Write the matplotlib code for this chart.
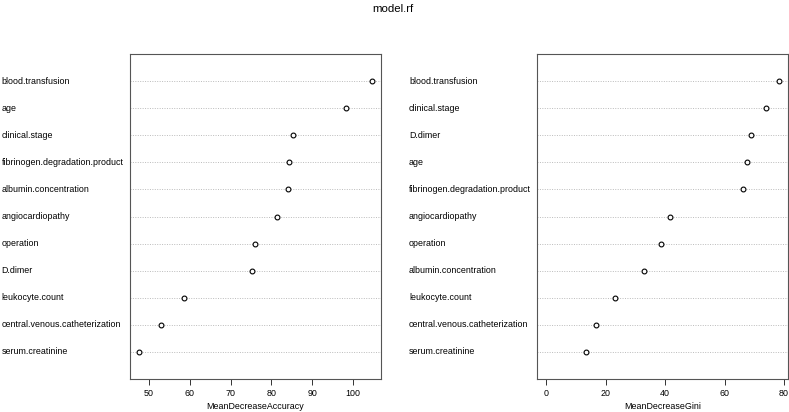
import matplotlib.pyplot as plt
import numpy as np

plt.rcParams['font.family'] = ['Liberation Sans', 'DejaVu Sans']

acc_labels = ["blood.transfusion", "age", "clinical.stage", "fibrinogen.degradation.product",
              "albumin.concentration", "angiocardiopathy", "operation", "D.dimer",
              "leukocyte.count", "central.venous.catheterization", "serum.creatinine"]
acc_values = [104.6, 98.2, 85.3, 84.4, 84.0, 81.3, 75.9, 75.2, 58.5, 53.0, 47.6]

gini_labels = ["blood.transfusion", "clinical.stage", "D.dimer", "age",
               "fibrinogen.degradation.product", "angiocardiopathy", "operation",
               "albumin.concentration", "leukocyte.count", "central.venous.catheterization",
               "serum.creatinine"]
gini_values = [78.2, 74.0, 68.9, 67.5, 66.3, 41.6, 38.7, 32.9, 23.0, 16.6, 13.2]

W, H = 789, 412
fig = plt.figure(figsize=(W / 100, H / 100), dpi=100)
fs = 6.4


def panel(x0, lab_x, labels, values, xlabel, ticks, xlim):
    ax = fig.add_axes([x0 / W, (H - 379) / H, 251 / W, 325 / H])
    n = len(values)
    ys = np.arange(n, 0, -1)
    for y in ys:
        ax.axhline(y, color="#bbbbbb", lw=0.7, ls=(0, (1, 1.5)), zorder=1)
    ax.scatter(values, ys, s=12, facecolors="white", edgecolors="black", linewidths=0.8, zorder=3)
    ax.set_ylim(0, n + 1)
    ax.set_xlim(*xlim)
    ax.set_yticks([])
    ax.set_xticks(ticks)
    ax.tick_params(axis="x", labelsize=fs, length=4, width=0.7, color="#333333", pad=3)
    ax.set_xlabel(xlabel, fontsize=fs, labelpad=3)
    for s in ax.spines.values():
        s.set_color("#555555")
        s.set_linewidth(0.8)
    for y, lab in zip(ys, labels):
        fig.text(lab_x / W, ax.transData.transform((0, y))[1] / H, lab,
                 fontsize=fs, ha="left", va="center")
    return ax


lo, hi = min(acc_values), max(acc_values)
pad = (hi - lo) * 0.04
panel(130, 1.5, acc_labels, acc_values, "MeanDecreaseAccuracy",
      [50, 60, 70, 80, 90, 100], (lo - pad, hi + pad))

hi2 = max(gini_values)
pad2 = hi2 * 0.04
panel(537, 409, gini_labels, gini_values, "MeanDecreaseGini",
      [0, 20, 40, 60, 80], (-pad2, hi2 + pad2))

fig.text(393 / W, 1 - 9 / H, "model.rf", fontsize=8.2, ha="center", va="center")

fig.savefig("out.png", dpi=100)
